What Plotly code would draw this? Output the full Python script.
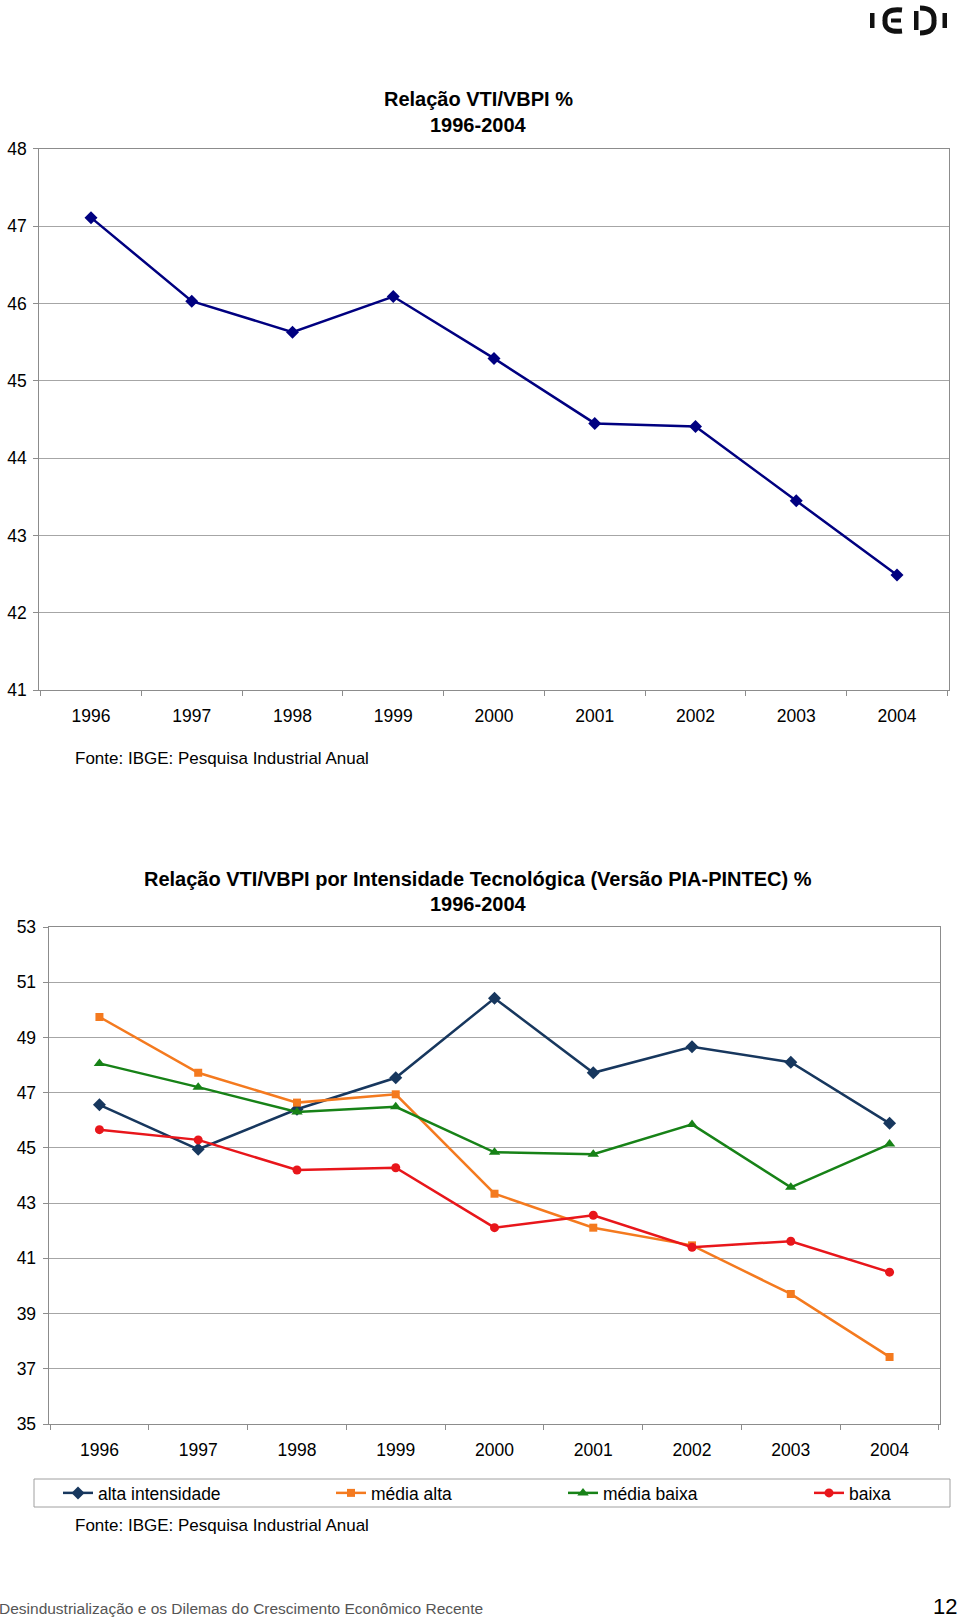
import plotly.graph_objects as go

W, H = 960, 1620

years = ["1996", "1997", "1998", "1999", "2000", "2001", "2002", "2003", "2004"]
vti_total = [47.11, 46.03, 45.63, 46.09, 45.29, 44.45, 44.41, 43.45, 42.49]
alta = [46.56, 44.95, 46.40, 47.54, 50.42, 47.72, 48.66, 48.10, 45.89]
media_alta = [49.74, 47.72, 46.64, 46.94, 43.34, 42.11, 41.47, 39.71, 37.43]
media_baixa = [48.06, 47.20, 46.30, 46.49, 44.84, 44.77, 45.85, 43.57, 45.14]
baixa = [45.66, 45.29, 44.20, 44.28, 42.11, 42.56, 41.40, 41.62, 40.50]

FONT = "Liberation Sans, Arial, Helvetica, sans-serif"
GRID = "#a6a6a6"
AXL = "#8c8c8c"


def px(x):
    return x / W


def py(y):
    return 1 - y / H


fig = go.Figure()

fig.add_trace(go.Scatter(
    x=years, y=vti_total, mode="lines+markers", name="VTI/VBPI",
    line=dict(color="#000080", width=2.5),
    marker=dict(symbol="diamond", size=10, color="#000080"),
    xaxis="x", yaxis="y", showlegend=False))

series = [
    ("alta intensidade", alta, "#17375e", "diamond", 10, "legend", 58),
    ("média alta", media_alta, "#f47a1f", "square", 8, "legend2", 331),
    ("média baixa", media_baixa, "#178217", "triangle-up", 10, "legend3", 563),
    ("baixa", baixa, "#e8161b", "circle", 9, "legend4", 809),
]
legends = {}
for name, vals, col, sym, sz, lg, lx in series:
    fig.add_trace(go.Scatter(
        x=years, y=vals, mode="lines+markers", name=name,
        line=dict(color=col, width=2.5),
        marker=dict(symbol=sym, size=sz, color=col),
        xaxis="x2", yaxis="y2", legend=lg, showlegend=True))
    legends[lg] = dict(orientation="h", x=px(lx), y=py(1493), xanchor="left", yanchor="middle",
                       bgcolor="rgba(0,0,0,0)", borderwidth=0,
                       font=dict(family=FONT, size=17.5, color="#000"), itemwidth=30)

xcommon = dict(type="category", tickson="boundaries", ticks="outside", ticklen=5,
               tickcolor=AXL, showline=True, linecolor=AXL, linewidth=1, mirror=True,
               showgrid=False, tickfont=dict(family=FONT, size=17.5, color="#000"),
               ticklabelstandoff=10, fixedrange=True, automargin=False)
ycommon = dict(showgrid=True, gridcolor=GRID, gridwidth=1, ticks="outside", ticklen=5,
               tickcolor=AXL, showline=True, linecolor=AXL, linewidth=1, mirror=True,
               zeroline=False, tickfont=dict(family=FONT, size=17.5, color="#000"),
               ticklabelstandoff=3, fixedrange=True, automargin=False)

fig.update_layout(
    width=W, height=H,
    margin=dict(l=0, r=0, t=0, b=0, pad=0, autoexpand=False),
    paper_bgcolor="white", plot_bgcolor="white",
    font=dict(family=FONT, size=17.5, color="#000"),
    xaxis=dict(domain=[px(39.3), px(948.7)], anchor="y", **xcommon),
    yaxis=dict(domain=[py(690.3), py(148.8)], anchor="x", range=[41, 48], tick0=41, dtick=1, **ycommon),
    xaxis2=dict(domain=[px(48.6), px(940.4)], anchor="y2", **xcommon),
    yaxis2=dict(domain=[py(1424), py(927)], anchor="x2", range=[35, 53], tick0=35, dtick=2, **ycommon),
    showlegend=True,
    **legends,
)

annotations = [
    dict(text="<b>Relação VTI/VBPI %</b>", x=px(478), y=py(99)),
    dict(text="<b>1996-2004</b>", x=px(478), y=py(125)),
    dict(text="<b>Relação VTI/VBPI por Intensidade Tecnológica (Versão PIA-PINTEC) %</b>", x=px(478), y=py(879)),
    dict(text="<b>1996-2004</b>", x=px(478), y=py(904)),
]
for a in annotations:
    fig.add_annotation(xref="paper", yref="paper", xanchor="center", yanchor="middle",
                       showarrow=False, font=dict(family=FONT, size=20, color="#000"), **a)

for yy in (758.5, 1525.3):
    fig.add_annotation(text="Fonte: IBGE: Pesquisa Industrial Anual", xref="paper", yref="paper",
                       x=px(73), y=py(yy), xanchor="left", yanchor="middle", showarrow=False,
                       font=dict(family=FONT, size=17, color="#000"))

fig.add_annotation(text="Desindustrialização e os Dilemas do Crescimento Econômico Recente",
                   xref="paper", yref="paper", x=px(-2), y=py(1608), xanchor="left", yanchor="middle",
                   showarrow=False, borderpad=0, font=dict(family=FONT, size=15.5, color="#555555"))
fig.add_annotation(text="12", xref="paper", yref="paper", x=px(958), y=py(1606), xanchor="right",
                   yanchor="middle", showarrow=False, borderpad=0,
                   font=dict(family=FONT, size=22, color="#000"))

shapes = []
# legend box
shapes.append(dict(type="rect", xref="paper", yref="paper", x0=px(34), x1=px(950), y0=py(1479), y1=py(1507),
                   line=dict(color="#a0a0a0", width=1), fillcolor="rgba(0,0,0,0)"))
# logo
blk = "#111111"
shapes.append(dict(type="rect", xref="paper", yref="paper", x0=px(870), x1=px(874.5), y0=py(28), y1=py(13),
                   fillcolor=blk, line=dict(width=0)))
shapes.append(dict(type="rect", xref="paper", yref="paper", x0=px(942.5), x1=px(947), y0=py(28), y1=py(13),
                   fillcolor=blk, line=dict(width=0)))
c_path = "M {a},{b} Q {c},{d} {e},{f} Q {g},{h} {i},{j}".format(
    a=px(902), b=py(10), c=px(884), d=py(8), e=px(885), f=py(20.5),
    g=px(884), h=py(33), i=px(902), j=py(31))
shapes.append(dict(type="path", xref="paper", yref="paper", path=c_path, line=dict(color=blk, width=5)))
shapes.append(dict(type="rect", xref="paper", yref="paper", x0=px(891), x1=px(901), y0=py(22.5), y1=py(18.5),
                   fillcolor=blk, line=dict(width=0)))
shapes.append(dict(type="rect", xref="paper", yref="paper", x0=px(914), x1=px(918.5), y0=py(30), y1=py(11),
                   fillcolor=blk, line=dict(width=0)))
d_path = "M {a},{b} Q {c},{d} {e},{f} Q {g},{h} {i},{j}".format(
    a=px(920), b=py(8), c=px(935), d=py(8), e=px(934), f=py(20.5),
    g=px(935), h=py(33), i=px(920), j=py(33))
shapes.append(dict(type="path", xref="paper", yref="paper", path=d_path, line=dict(color=blk, width=5)))

fig.update_layout(shapes=shapes)

fig.write_html("out.html", config={"displayModeBar": False},
               post_script="document.body.style.margin='0px';")
